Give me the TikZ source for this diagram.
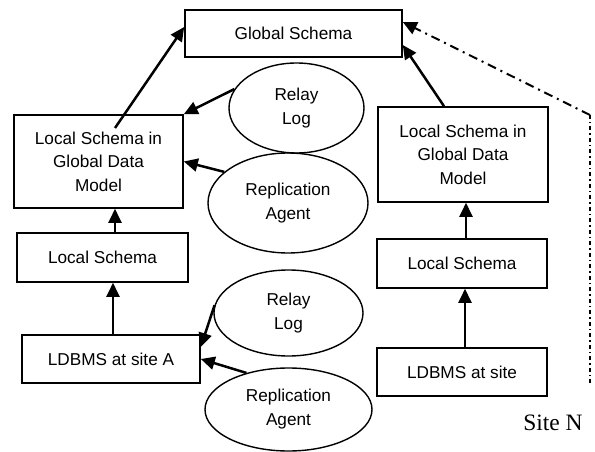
\documentclass[tikz,border=0pt]{standalone}
\usepackage{fontspec}
\setmainfont{Liberation Sans}
\newfontfamily\serifN{Liberation Serif}
\usetikzlibrary{shapes.geometric,arrows.meta}
\begin{document}
\begin{tikzpicture}[x=1pt,y=-1pt,
  box/.style={draw,line width=1.6pt,inner sep=0pt,align=center,
    font=\fontsize{17.2}{23.5}\selectfont},
  oval/.style={draw,ellipse,line width=1.4pt,inner sep=0pt,align=center,
    font=\fontsize{17.2}{24}\selectfont},
  tip/.style={-{Triangle[length=14pt,width=13pt]}},
  arr/.style={line width=2.5pt,tip},
  dd/.style={line width=2pt,dash pattern=on 9pt off 5pt on 2pt off 5pt},
  ddv/.style={line width=2pt,dash pattern=on 4pt off 3pt on 1.5pt off 3pt}
]
\useasboundingbox (0,0) rectangle (595,452);
% boxes
\node[box,minimum width=217pt,minimum height=47pt] (gs) at (293.5,33.5) {Global Schema};
\node[box,minimum width=169pt,minimum height=93pt] (lgA) at (98.5,161.5) {Local Schema in\\Global Data\\Model};
\node[box,minimum width=171pt,minimum height=49pt] (lsA) at (102.5,257.5) {Local Schema};
\node[box,minimum width=178pt,minimum height=48pt] (ldA) at (111,359) {LDBMS at site A};
\node[box,minimum width=170pt,minimum height=95pt] (lgN) at (463,154.5) {Local Schema in\\Global Data\\Model};
\node[box,minimum width=170pt,minimum height=49pt] (lsN) at (462,263.5) {Local Schema};
\node[box,minimum width=170pt,minimum height=48pt] (ldN) at (462,372) {LDBMS at site};
% ellipses
\node[oval,minimum width=135pt,minimum height=90pt] (rl1) at (296.5,108) {Relay\\Log};
\node[oval,minimum width=160pt,minimum height=100pt] (ra1) at (288,203) {Replication\\Agent};
\node[oval,minimum width=149pt,minimum height=86pt] (rl2) at (288.5,313) {Relay\\Log};
\node[oval,minimum width=167pt,minimum height=83pt] (ra2) at (288.5,409.5) {Replication\\Agent};
% site label
\node[font=\serifN\fontsize{23.5}{28}\selectfont,inner sep=0pt] (site) at (553,423) {Site N};
% arrows site A
\draw[arr] ([xshift=16.5pt,yshift=33.5pt]lgA.center) -- ([yshift=6.5pt]gs.west);
\draw[arr] (rl1.163) -- (lgA.north east);
\draw[arr] (ra1.154) -- (lgA.east);
\draw[arr] ([xshift=12.5pt]lsA.north) -- ([xshift=16.5pt]lgA.south);
\draw[arr] ([xshift=2pt]ldA.north) -- ([xshift=10.5pt]lsA.south);
\draw[arr] (rl2.174) -- ([yshift=12pt]ldA.east);
\draw[arr] (ra2.139) -- (ldA.east);
% arrows site N
\draw[arr] ([xshift=-19pt]lgN.north) -- ([yshift=-11.5pt]gs.east);
\draw[arr] ([xshift=4pt]lsN.north) -- ([xshift=3pt]lgN.south);
\draw[arr] ([xshift=3pt]ldN.north) -- ([xshift=3pt]lsN.south);
% dash-dot link
\coordinate (corner) at (590,115);
\coordinate (bottom) at (590,383);
\draw[ddv] (bottom) -- (corner);
\draw[dd,tip] (corner) -- ([yshift=11.5pt]gs.east);
\end{tikzpicture}
\end{document}
